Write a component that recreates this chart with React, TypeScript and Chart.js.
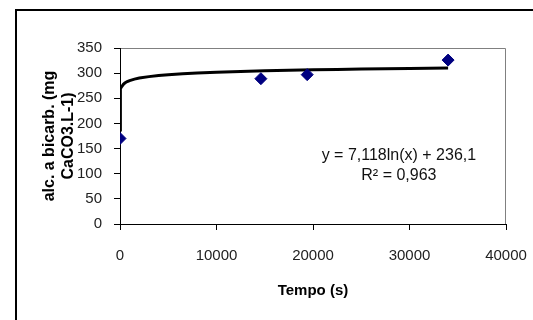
import React, { useEffect, useRef } from "react";
import { Chart, registerables } from "chart.js";

Chart.register(...registerables);

// Measured data points (Tempo in s, alkalinity)
const tempo = [0, 14600, 19400, 34000];
const alcalinidade = [170, 289, 297, 326];

// Logarithmic trendline, as stated on the chart: y = 7,118ln(x) + 236,1
const trendA = 7.118;
const trendB = 236.1;
const trendX = [0.001, 1, 10, 50, 100, 200, 350, 500, 750, 1000, 1500, 2000, 3000, 4000, 5000, 6500, 8000, 10000, 12500, 15000, 17500, 20000, 22500, 25000, 27500, 30000, 32000, 34000];

const yTicks = [0, 50, 100, 150, 200, 250, 300, 350];
const xTicks = [0, 10000, 20000, 30000, 40000];

const equationText = "y = 7,118ln(x) + 236,1";
const r2Text = "R² = 0,963";
const xTitle = "Tempo (s)";
const yTitle = ["alc. a bicarb. (mg", "CaCO3.L-1)"];

const FONT = "'Liberation Sans', Arial, sans-serif";

export default function App() {
  const ref = useRef<HTMLCanvasElement | null>(null);

  useEffect(() => {
    const canvas = ref.current;
    if (!canvas) return;

    const framePlugin = {
      id: "frame",
      beforeDraw(chart: any) {
        const ctx = chart.ctx;
        ctx.save();
        ctx.fillStyle = "#ffffff";
        ctx.fillRect(0, 0, chart.width, chart.height);
        ctx.fillStyle = "#000000";
        ctx.fillRect(15, 9, 2, chart.height - 9);
        ctx.fillRect(15, 9, chart.width - 15, 2);
        const a = chart.chartArea;
        ctx.strokeStyle = "#808080";
        ctx.lineWidth = 1;
        ctx.beginPath();
        ctx.moveTo(a.left, a.top + 0.5);
        ctx.lineTo(a.right - 0.5, a.top + 0.5);
        ctx.lineTo(a.right - 0.5, a.bottom);
        ctx.stroke();
        ctx.restore();
      },
      afterDraw(chart: any) {
        const ctx = chart.ctx;
        const xs = chart.scales.x;
        const ys = chart.scales.y;
        ctx.save();
        ctx.fillStyle = "#111111";
        ctx.font = `16px ${FONT}`;
        ctx.textAlign = "center";
        ctx.textBaseline = "middle";
        const cx = xs.getPixelForValue(28900);
        ctx.fillText(equationText, cx, ys.getPixelForValue(137));
        ctx.fillText(r2Text, cx, ys.getPixelForValue(97));
        ctx.restore();
      },
    };

    const chart = new Chart(canvas, {
      type: "scatter",
      data: {
        datasets: [
          {
            label: "trend",
            data: trendX.map((x) => ({ x, y: trendA * Math.log(x) + trendB })),
            showLine: true,
            borderColor: "#000000",
            borderWidth: 3,
            pointRadius: 0,
            tension: 0,
            order: 2,
          },
          {
            label: "dados",
            data: tempo.map((x, i) => ({ x, y: alcalinidade[i] })),
            pointStyle: "rectRot",
            pointRadius: 6,
            backgroundColor: "#000080",
            borderColor: "#000080",
            borderWidth: 1,
            order: 1,
          },
        ],
      },
      options: {
        animation: false,
        responsive: false,
        devicePixelRatio: 1,
        layout: { padding: { top: 48, right: 27, left: 0, bottom: 0 } },
        plugins: {
          legend: { display: false },
          tooltip: { enabled: false },
        },
        scales: {
          x: {
            type: "linear",
            min: 0,
            max: 40000,
            afterBuildTicks: (s: any) => {
              s.ticks = xTicks.map((v) => ({ value: v }));
            },
            afterFit: (s: any) => {
              s.height = 96;
              s.paddingLeft = 0;
              s.paddingRight = 0;
            },
            grid: {
              display: true,
              drawOnChartArea: false,
              drawTicks: true,
              tickLength: 6,
              color: "#000000",
            },
            border: { display: true, color: "#000000", width: 1 },
            ticks: {
              color: "#222222",
              font: { family: FONT, size: 15 },
              padding: 17,
              maxRotation: 0,
              callback: (v: any) => String(v),
            },
            title: {
              display: true,
              text: xTitle,
              color: "#000000",
              font: { family: FONT, size: 15, weight: "bold" },
              padding: { top: 0, bottom: 20 },
            },
          },
          y: {
            type: "linear",
            min: 0,
            max: 350,
            afterBuildTicks: (s: any) => {
              s.ticks = yTicks.map((v) => ({ value: v }));
            },
            afterFit: (s: any) => {
              s.width = 120;
              s.paddingTop = 0;
              s.paddingBottom = 0;
            },
            grid: {
              display: true,
              drawOnChartArea: false,
              drawTicks: true,
              tickLength: 6,
              color: "#000000",
            },
            border: { display: true, color: "#000000", width: 1 },
            ticks: {
              color: "#222222",
              font: { family: FONT, size: 15 },
              padding: 12,
              callback: (v: any) => String(v),
            },
            title: {
              display: true,
              text: yTitle,
              color: "#000000",
              font: { family: FONT, size: 16, weight: "bold", lineHeight: 1.2 },
              padding: { top: 40, bottom: 0 },
            },
          },
        },
      },
      plugins: [framePlugin],
    });

    return () => chart.destroy();
  }, []);

  return (
    <div style={{ position: "fixed", left: 0, top: 0, width: 533, height: 320, background: "#fff" }}>
      <canvas ref={ref} width={533} height={320} style={{ display: "block" }} />
    </div>
  );
}
